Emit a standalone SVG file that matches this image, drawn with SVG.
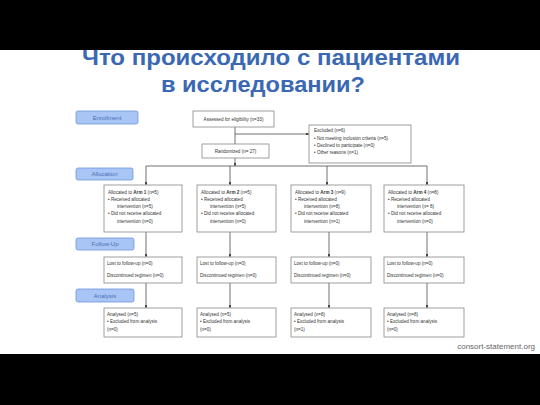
<svg xmlns="http://www.w3.org/2000/svg" width="540" height="405" viewBox="0 0 540 405">
<defs>
<marker id="ah" viewBox="0 0 6 6" refX="6" refY="3" markerWidth="4" markerHeight="4" orient="auto"><path d="M0,0 L6,3 L0,6 z" fill="#222"/></marker>
<style>
.title{font-family:"Liberation Sans",Arial,sans-serif;font-weight:bold;font-size:22px;fill:#3b68b3;text-anchor:middle}
.box{fill:#fff;stroke:#888;stroke-width:0.8}
.lbl{fill:#a9c5f5;stroke:#6d95da;stroke-width:0.8}
.lt{font-family:"Liberation Sans",Arial,sans-serif;font-size:6px;fill:#4a6fb5;text-anchor:middle}
.t{font-family:"Liberation Sans",Arial,sans-serif;font-size:4.6px;fill:#333}
.c{text-anchor:middle}
.ln{stroke:#333;stroke-width:0.7;fill:none}
.a{marker-end:url(#ah)}
.src{font-family:"Liberation Sans",Arial,sans-serif;font-size:8px;fill:#666}
</style>
</defs>
<rect x="0" y="0" width="540" height="405" fill="#fff"/>
<rect x="0" y="0" width="540" height="50" fill="#000"/>
<rect x="0" y="354" width="540" height="51" fill="#000"/>
<text class="title" x="271" y="65" textLength="378" lengthAdjust="spacingAndGlyphs">Что происходило с пациентами</text>
<text class="title" x="263" y="92" textLength="204" lengthAdjust="spacingAndGlyphs">в исследовании?</text>

<g id="connectors">
<path class="ln" d="M235,127 V144"/>
<path class="ln a" d="M235,134 H309"/>
<path class="ln a" d="M235,158 V166"/>
<path class="ln" d="M146,166 H427"/>
<path class="ln a" d="M146,166 V185"/>
<path class="ln a" d="M230,166 V185"/>
<path class="ln a" d="M327,166 V185"/>
<path class="ln a" d="M427,166 V185"/>
<path class="ln a" d="M146,232 V257"/>
<path class="ln a" d="M230,232 V257"/>
<path class="ln a" d="M329,232 V257"/>
<path class="ln a" d="M427,232 V257"/>
<path class="ln a" d="M146,283 V308"/>
<path class="ln a" d="M230,283 V308"/>
<path class="ln a" d="M329,283 V308"/>
<path class="ln a" d="M427,283 V308"/>
</g>

<g id="lbl-enrollment"><rect class="lbl" x="76" y="111" width="62" height="13" rx="2"/><text class="lt" x="107" y="119.5">Enrollment</text></g>
<g id="lbl-allocation"><rect class="lbl" x="76" y="168" width="57" height="12" rx="2"/><text class="lt" x="104.5" y="176">Allocation</text></g>
<g id="lbl-followup"><rect class="lbl" x="76" y="238" width="58" height="12" rx="2"/><text class="lt" x="105" y="246">Follow-Up</text></g>
<g id="lbl-analysis"><rect class="lbl" x="76" y="289" width="58" height="13" rx="2"/><text class="lt" x="105" y="297.5">Analysis</text></g>

<g id="assessed"><rect class="box" x="193" y="111" width="81" height="16"/><text class="t c" x="233.5" y="120.5">Assessed for eligibility (n=33)</text></g>
<g id="randomized"><rect class="box" x="202" y="144" width="67" height="14"/><text class="t c" x="235.5" y="152.5">Randomized (n= 27)</text></g>
<g id="excluded"><rect class="box" x="309" y="125" width="102" height="38"/>
<text class="t" x="314" y="132">Excluded  (n=6)</text>
<text class="t" x="314" y="139.5">•  Not meeting inclusion criteria (n=5)</text>
<text class="t" x="314" y="146.5">•  Declined to participate (n=0)</text>
<text class="t" x="314" y="153.5">•  Other reasons (n=1)</text></g>

<g id="arm1"><rect class="box" x="104" y="185" width="78" height="47"/>
<text class="t" x="108" y="194">Allocated to <tspan font-weight="bold">Arm 1</tspan> (n=5)</text>
<text class="t" x="108" y="201">•  Received allocated</text>
<text class="t" x="117" y="208">intervention (n=5)</text>
<text class="t" x="108" y="215">•  Did not receive allocated</text>
<text class="t" x="117" y="222.5">intervention  (n=0)</text></g>
<g id="arm2"><rect class="box" x="197" y="185" width="79" height="47"/>
<text class="t" x="201" y="194">Allocated to <tspan font-weight="bold">Arm 2</tspan> (n=5)</text>
<text class="t" x="201" y="201">•  Received allocated</text>
<text class="t" x="210" y="208">intervention (n=5)</text>
<text class="t" x="201" y="215">•  Did not receive allocated</text>
<text class="t" x="210" y="222.5">intervention  (n=0)</text></g>
<g id="arm3"><rect class="box" x="291" y="185" width="80" height="47"/>
<text class="t" x="295" y="194">Allocated to <tspan font-weight="bold">Arm 3</tspan> (n=9)</text>
<text class="t" x="295" y="201">•  Received allocated</text>
<text class="t" x="304" y="208">intervention (n=8)</text>
<text class="t" x="295" y="215">•  Did not receive allocated</text>
<text class="t" x="304" y="222.5">intervention (n=1)</text></g>
<g id="arm4"><rect class="box" x="384" y="185" width="80" height="47"/>
<text class="t" x="388" y="194">Allocated to <tspan font-weight="bold">Arm 4</tspan> (n=8)</text>
<text class="t" x="388" y="201">•  Received allocated</text>
<text class="t" x="397" y="208">intervention (n= 8)</text>
<text class="t" x="388" y="215">•  Did not receive allocated</text>
<text class="t" x="397" y="222.5">intervention (n=0)</text></g>

<g id="fu1"><rect class="box" x="104" y="257" width="78" height="26"/>
<text class="t" x="107" y="265">Lost to follow-up (n=0)</text><text class="t" x="107" y="277">Discontinued regimen (n=0)</text></g>
<g id="fu2"><rect class="box" x="197" y="257" width="79" height="26"/>
<text class="t" x="200" y="265">Lost to follow-up (n=0)</text><text class="t" x="200" y="277">Discontinued regimen (n=0)</text></g>
<g id="fu3"><rect class="box" x="291" y="257" width="80" height="26"/>
<text class="t" x="294" y="265">Lost to follow-up (n=0)</text><text class="t" x="294" y="277">Discontinued regimen (n=0)</text></g>
<g id="fu4"><rect class="box" x="384" y="257" width="80" height="26"/>
<text class="t" x="387" y="265">Lost to follow-up (n=0)</text><text class="t" x="387" y="277">Discontinued regimen (n=0)</text></g>

<g id="an1"><rect class="box" x="104" y="308" width="78" height="29"/>
<text class="t" x="107" y="316">Analysed  (n=5)</text><text class="t" x="107" y="323">•  Excluded from analysis</text><text class="t" x="107" y="330.5">(n=0)</text></g>
<g id="an2"><rect class="box" x="197" y="308" width="79" height="29"/>
<text class="t" x="200" y="316">Analysed  (n=5)</text><text class="t" x="200" y="323">•  Excluded from analysis</text><text class="t" x="200" y="330.5">(n=0)</text></g>
<g id="an3"><rect class="box" x="291" y="308" width="80" height="29"/>
<text class="t" x="294" y="316">Analysed  (n=8)</text><text class="t" x="294" y="323">•  Excluded from analysis</text><text class="t" x="294" y="330.5">(n=1)</text></g>
<g id="an4"><rect class="box" x="384" y="308" width="80" height="29"/>
<text class="t" x="387" y="316">Analysed  (n=8)</text><text class="t" x="387" y="323">•  Excluded from analysis</text><text class="t" x="387" y="330.5">(n=0)</text></g>

<text class="src" x="535" y="349" text-anchor="end">consort-statement.org</text>
</svg>
